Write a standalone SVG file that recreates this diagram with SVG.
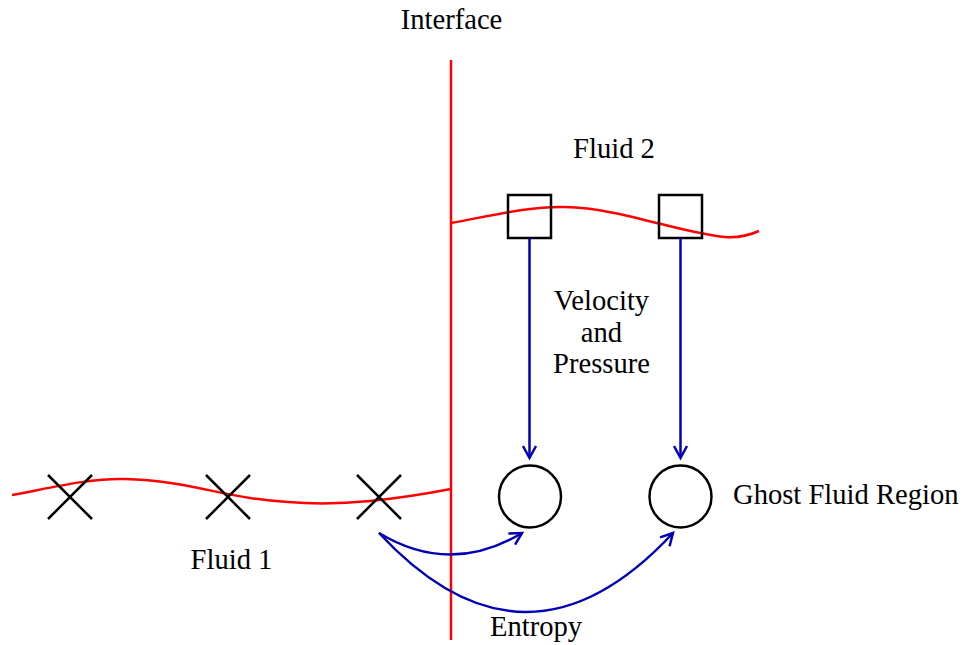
<svg xmlns="http://www.w3.org/2000/svg" width="963" height="645" viewBox="0 0 963 645">
<defs>
<style>
.red{fill:none;stroke:#f00;stroke-width:2.5}
.blk{fill:none;stroke:#000;stroke-width:2.5}
.arr{fill:none;stroke:#0000b4;stroke-width:2.5}
text{font-family:"Liberation Serif","Times New Roman",serif;font-size:28.6px;fill:#000}
.c{text-anchor:middle}
</style>
<marker id="ah" viewBox="0 0 16 16" refX="13" refY="8" markerWidth="16" markerHeight="16" markerUnits="userSpaceOnUse" orient="auto">
<path d="M1,1.5 L13,8 L1,14.5" fill="none" stroke="#0000b4" stroke-width="2.5"/>
</marker>
</defs>
<rect width="963" height="645" fill="#fff"/>
<g id="interface">
<line x1="451" y1="60" x2="451" y2="640" class="red"/>
<text x="451.5" y="29" class="c">Interface</text>
</g>
<g id="wave2">
<path class="red" d="M451,223 C490,216 530,206 565,207 C620,208 680,233 725,237 C740,238 750,235 759,231"/>
</g>
<g id="wave1">
<path class="red" d="M12,495 C50,488 90,478 125,479 C175,480 215,493 250,498 C290,504 330,505 370,501 C400,498 425,494 451,489"/>
</g>
<g id="sq1"><rect x="508" y="195" width="43" height="43" class="blk"/></g>
<g id="sq2"><rect x="659" y="195" width="43" height="43" class="blk"/></g>
<g id="circ1"><circle cx="530" cy="496.5" r="31" class="blk"/></g>
<g id="circ2"><circle cx="680.5" cy="496.5" r="31" class="blk"/></g>
<g id="x1"><path class="blk" d="M48,475 L92,519 M92,475 L48,519"/></g>
<g id="x2"><path class="blk" d="M206,475 L250,519 M250,475 L206,519"/></g>
<g id="x3"><path class="blk" d="M357,475 L401,519 M401,475 L357,519"/></g>
<g id="labels">
<text x="614" y="158" class="c">Fluid 2</text>
<text x="601.5" y="310" class="c">Velocity</text>
<text x="601.5" y="342" class="c">and</text>
<text x="601.5" y="373" class="c">Pressure</text>
<text x="733" y="504">Ghost Fluid Region</text>
<text x="231.5" y="569" class="c">Fluid 1</text>
<text x="536" y="636" class="c">Entropy</text>
</g>
<g id="connectors">
<line x1="529.5" y1="238" x2="529.5" y2="458" class="arr" marker-end="url(#ah)"/>
<line x1="680.5" y1="238" x2="680.5" y2="458" class="arr" marker-end="url(#ah)"/>
<path class="arr" d="M379,533 Q450,576 522,533" marker-end="url(#ah)"/>
<path class="arr" d="M379,533 Q526,691 673,533" marker-end="url(#ah)"/>
</g>
</svg>
